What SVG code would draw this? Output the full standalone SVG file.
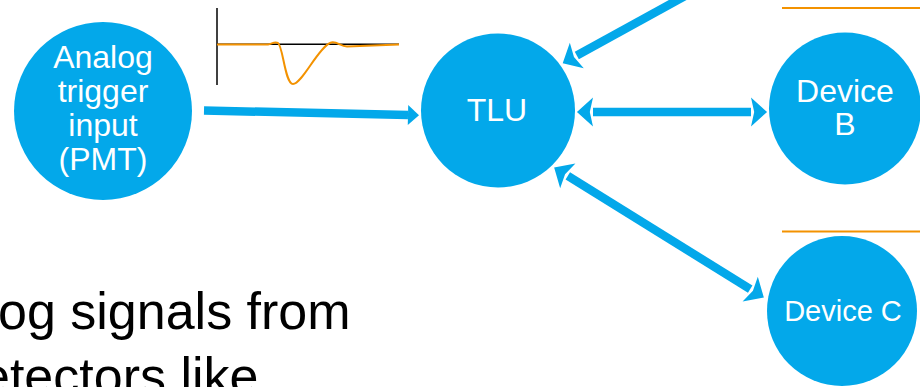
<svg xmlns="http://www.w3.org/2000/svg" width="920" height="387" viewBox="0 0 920 387">
  <defs>
    <style>
      .node { fill: #03A8EA; }
      .label { fill: #ffffff; font-family: "Liberation Sans", Arial, sans-serif; font-size: 32px; text-anchor: middle; }
      .wire { fill: none; stroke: #03A8EA; stroke-width: 8.5; stroke-linecap: butt; }
      .rule { stroke: #F39200; stroke-width: 2; }
      .body { fill: #000000; font-family: "Liberation Sans", Arial, sans-serif; font-size: 52px; }
    </style>
    <marker id="head" markerUnits="userSpaceOnUse" markerWidth="20" markerHeight="30" viewBox="0 -14 16 28" refX="0" refY="0" orient="auto-start-reverse">
      <path d="M0,-13.5 L15,0 L0,13.5 L3,0 Z" fill="#03A8EA"/>
    </marker>
    <marker id="headSmall" markerUnits="userSpaceOnUse" markerWidth="14" markerHeight="22" viewBox="0 -10 12 20" refX="0" refY="0" orient="auto">
      <path d="M0,-9 L10,0 L0,9 Z" fill="#03A8EA"/>
    </marker>
  </defs>

  <!-- orange rules at the right edge -->
  <line class="rule" x1="782" y1="8" x2="920" y2="8"/>
  <line class="rule" x1="782" y1="231.5" x2="920" y2="231.5"/>

  <!-- PMT pulse sketch -->
  <g id="waveform">
    <line x1="217" y1="8" x2="217" y2="85" stroke="#000" stroke-width="1.5"/>
    <line x1="217" y1="44.3" x2="399" y2="44.3" stroke="#000" stroke-width="1.5"/>
    <path d="M217,44.5 L268,44.5 C272,44 274,41.5 278,43 C283,46 285,84 293,84 C302,84 318,48 330,43 C336,40 340,46.5 347,46.5 L399,44.5" fill="none" stroke="#F39200" stroke-width="2"/>
  </g>

  <g id="connectors">
    <path class="wire" d="M204,110.5 L408,115" marker-end="url(#headSmall)"/>
    <path class="wire" d="M705,-15 L576.8,55.5" marker-end="url(#head)"/>
    <path class="wire" d="M593,112 L751,112" marker-start="url(#head)" marker-end="url(#head)"/>
    <path class="wire" d="M567.8,175.9 L750.2,289.1" marker-start="url(#head)" marker-end="url(#head)"/>
  </g>

  <g id="analog-input">
    <circle class="node" cx="103" cy="111" r="89"/>
    <text class="label" x="103" y="68">Analog</text>
    <text class="label" x="103" y="102">trigger</text>
    <text class="label" x="103" y="136">input</text>
    <text class="label" x="103" y="170">(PMT)</text>
  </g>

  <g id="tlu">
    <circle class="node" cx="498" cy="110.5" r="77"/>
    <text class="label" x="497" y="121">TLU</text>
  </g>

  <g id="device-b">
    <circle class="node" cx="845" cy="108.5" r="76"/>
    <text class="label" x="845" y="102">Device</text>
    <text class="label" x="845" y="135">B</text>
  </g>

  <g id="device-c">
    <circle class="node" cx="842" cy="311" r="75"/>
    <text class="label" x="843" y="321" style="font-size:29px">Device C</text>
  </g>

  <!-- slide body text, clipped at the left edge -->
  <text class="body" x="-2" y="329">og signals from</text>
  <text class="body" x="-19" y="394">etectors like</text>
</svg>
